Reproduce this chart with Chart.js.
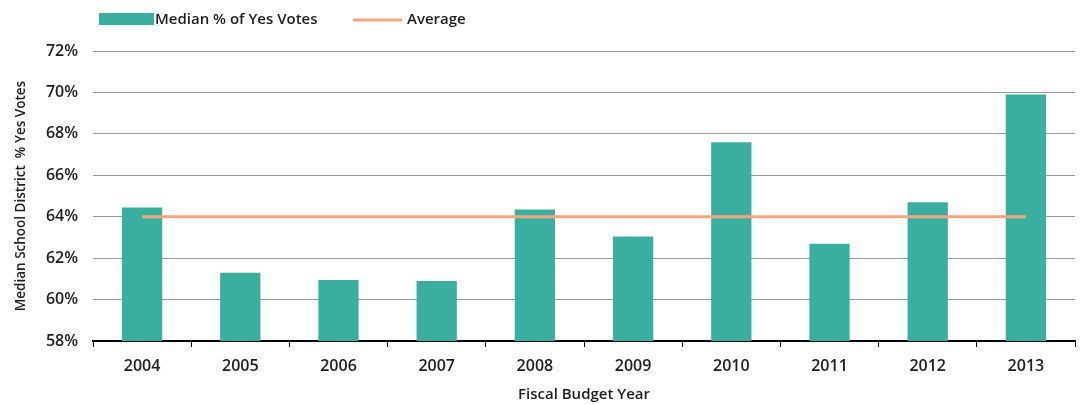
<!DOCTYPE html>
<html>
<head>
<meta charset="utf-8">
<script src="https://cdn.jsdelivr.net/npm/chart.js@4/dist/chart.umd.min.js"></script>
<style>
  html, body { margin: 0; padding: 0; background: #fff; }
  #wrap { width: 1083px; height: 404px; }
</style>
</head>
<body>
<div id="wrap"><canvas id="voteChart"></canvas></div>
<script>
const years = ['2004', '2005', '2006', '2007', '2008', '2009', '2010', '2011', '2012', '2013'];
const medianYes = [64.45, 61.3, 60.95, 60.9, 64.35, 63.05, 67.6, 62.7, 64.7, 69.9];
const averageYes = [64.0, 64.0, 64.0, 64.0, 64.0, 64.0, 64.0, 64.0, 64.0, 64.0];
const yTicks = [58, 60, 62, 64, 66, 68, 70, 72];

const FONT = "'Open Sans', sans-serif";
const TEXT = '#1e1e1e';
const TEAL = '#3aaf9f';
const ORANGE = '#f6a67c';

// legend drawn by hand so the swatches can differ in size
const topLegend = {
  id: 'topLegend',
  afterDraw(chart) {
    const c = chart.ctx;
    c.save();
    c.fillStyle = TEAL;
    c.fillRect(99, 13, 55, 12);
    c.strokeStyle = ORANGE;
    c.lineWidth = 3;
    c.beginPath();
    c.moveTo(353, 20);
    c.lineTo(402, 20);
    c.stroke();
    c.fillStyle = TEXT;
    c.font = `600 15px ${FONT}`;
    c.textBaseline = 'middle';
    c.fillText(chart.data.datasets[0].label, 155, 20);
    c.fillText(chart.data.datasets[1].label, 407, 20);
    c.restore();
  }
};

new Chart(document.getElementById('voteChart'), {
  data: {
    labels: years,
    datasets: [
      {
        type: 'bar',
        label: 'Median % of Yes Votes',
        data: medianYes,
        backgroundColor: TEAL,
        categoryPercentage: 1,
        barPercentage: 0.41,
        order: 1
      },
      {
        type: 'line',
        label: 'Average',
        data: averageYes,
        borderColor: ORANGE,
        borderWidth: 3,
        pointRadius: 0,
        tension: 0,
        order: 0
      }
    ]
  },
  options: {
    responsive: true,
    maintainAspectRatio: false,
    animation: false,
    layout: { padding: { top: 51, right: 8, left: 0, bottom: 0 } },
    plugins: {
      legend: { display: false },
      tooltip: { enabled: false }
    },
    scales: {
      x: {
        offset: true,
        afterFit: s => { s.height = 63; },
        border: { display: true, color: '#000', width: 2 },
        grid: {
          offset: true,
          drawOnChartArea: false,
          drawTicks: true,
          tickLength: 6,
          color: '#000'
        },
        ticks: {
          color: TEXT,
          padding: 10,
          font: { family: FONT, size: 16, weight: '600' }
        },
        title: {
          display: true,
          text: 'Fiscal Budget Year',
          color: TEXT,
          padding: { top: 0, bottom: 0 },
          font: { family: FONT, size: 15, weight: '600' }
        }
      },
      y: {
        min: 58,
        max: 72,
        afterFit: s => { s.width = 93; },
        afterBuildTicks: s => { s.ticks = yTicks.map(v => ({ value: v })); },
        border: { display: false },
        grid: { color: '#999999', lineWidth: 1, drawTicks: false },
        ticks: {
          color: TEXT,
          padding: 15,
          font: { family: FONT, size: 16, weight: '600' },
          callback: v => v + '%'
        },
        title: {
          display: true,
          text: 'Median School District  % Yes Votes',
          color: TEXT,
          padding: { top: 13, bottom: 0 },
          font: { family: FONT, size: 13.5, weight: '600' }
        }
      }
    }
  },
  plugins: [topLegend]
});
</script>
</body>
</html>
